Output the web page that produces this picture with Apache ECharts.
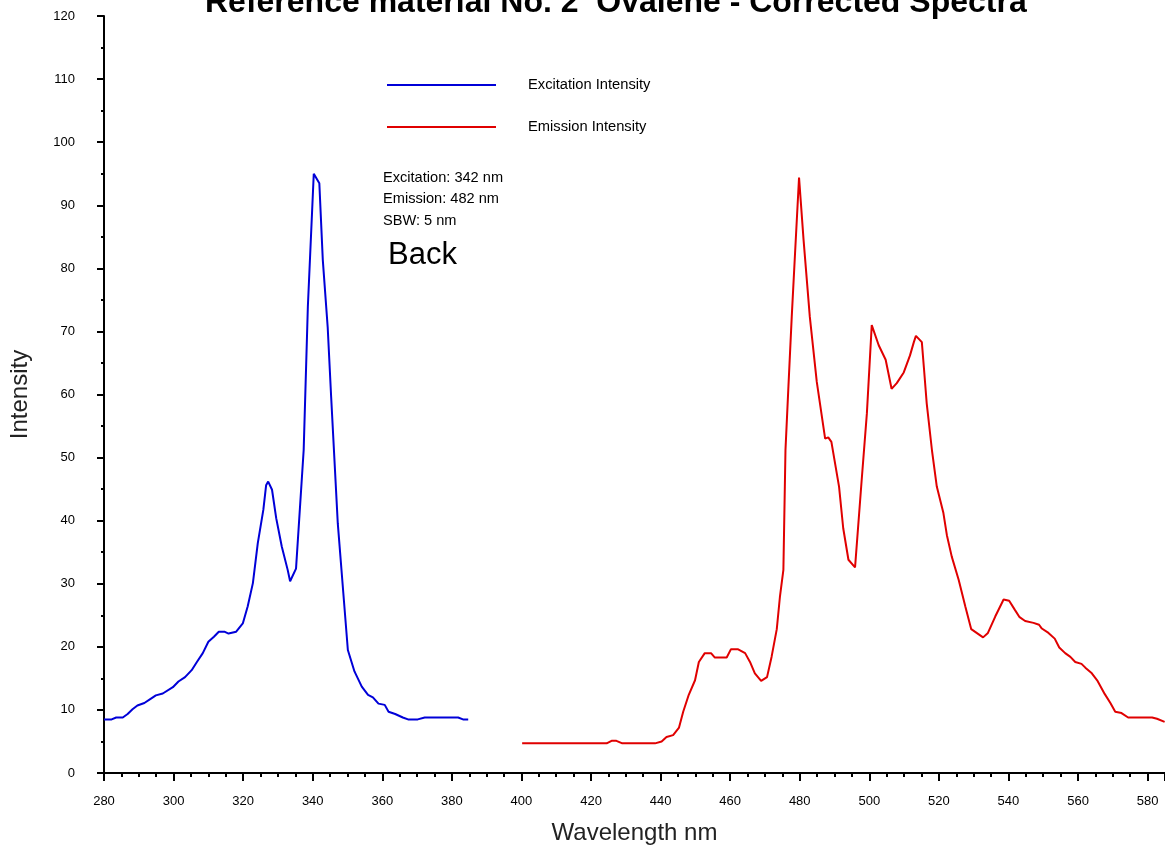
<!DOCTYPE html>
<html>
<head>
<meta charset="utf-8">
<script src="https://cdn.jsdelivr.net/npm/echarts@6/dist/echarts.min.js"></script>
<style>
  html, body { margin: 0; padding: 0; background: #fff; }
  #chart { width: 1165px; height: 865px; }
</style>
</head>
<body>
<div id="chart"></div>
<script>
// excitation spectrum
const excitationWl = [280, 282.2, 283.5, 285.4, 286.8, 288.2, 289.6, 291.6, 293.5, 294.9, 296.9, 299.8,
    301.4, 303.3, 305.2, 306.7, 308.4, 310, 311.6, 313, 314.6, 315.8, 318, 319.9, 321.3, 322.8, 324.2,
    325.8, 326.6, 327.2, 328.3, 329.5, 331.1, 332.8, 333.5, 335.2, 337.4, 338.6, 340.3, 341.9, 342.9,
    344.3, 345.3, 347.2, 348.8, 350.1, 352, 354.1, 355.9, 357.3, 358.9, 360.7, 361.8, 363.7, 365.9,
    367.4, 370.2, 372.2, 381.8, 383.2, 384.7]
const excitationVal = [8.5, 8.5, 8.8, 8.8, 9.35, 10.1, 10.7, 11.1, 11.8, 12.3, 12.6, 13.6,
    14.5, 15.2, 16.3, 17.6, 19.0, 20.8, 21.6, 22.4, 22.4, 22.1, 22.4, 23.7, 26.4, 30.1, 36.4,
    41.7, 45.6, 46.2, 44.9, 40.4, 35.9, 32.2, 30.4, 32.4, 51.2, 73.9, 95.0, 93.5, 81.3,
    70.7, 59.6, 39.6, 28.5, 19.5, 16.1, 13.7, 12.4, 12.0, 11.0, 10.8, 9.7, 9.35, 8.8,
    8.5, 8.5, 8.8, 8.8, 8.5, 8.5]

// emission spectrum
const emissionWl = [400.2, 424.5, 425.9, 427.3, 429, 438.4, 440.3, 441.7, 443.6, 445.3, 446.5, 448.1,
    449.9, 451, 452.7, 454.5, 455.6, 459, 460.2, 462.3, 464.3, 465.7, 467.1, 468.9, 470.6, 471.9,
    473.4, 474.3, 475.3, 475.9, 476.7, 477.7, 478.7, 479.8, 481.1, 482.9, 484.9, 487.3, 488.2, 489.1,
    491.3, 492.5, 494, 495.9, 497.8, 499.3, 500.7, 502.7, 504.7, 506.4, 507.9, 509.9, 511.7, 512.8,
    513.4, 515.1, 515.7, 516.5, 518, 519.4, 521.3, 522.3, 523.7, 525.7, 527.6, 529.3, 532.7, 534.1,
    536.2, 538.6, 540.2, 541.8, 543.2, 544.8, 547.2, 548.8, 549.6, 551.5, 553.3, 554.6, 556.3, 557.8,
    559.2, 561, 562.1, 563.8, 565.5, 567.7, 569.3, 570.7, 572.5, 574.4, 581.3, 582.7, 584.9]
const emissionVal = [4.7, 4.7, 5.1, 5.1, 4.7, 4.7, 5.0, 5.7, 6.0, 7.2, 9.7, 12.4,
    14.7, 17.6, 19.0, 19.0, 18.3, 18.3, 19.6, 19.6, 19.0, 17.6, 15.8, 14.6, 15.2, 18.4,
    22.8, 27.9, 32.2, 51.2, 60.7, 72.3, 82.9, 94.4, 84.5, 72.3, 62.0, 53.0, 53.2, 52.5,
    45.4, 38.8, 33.8, 32.6, 46.4, 57.0, 71.0, 67.8, 65.5, 60.9, 61.8, 63.5, 66.2, 68.3,
    69.3, 68.3, 64.2, 58.6, 51.2, 45.4, 41.2, 37.7, 34.3, 30.6, 26.4, 22.8, 21.5, 22.2,
    24.8, 27.5, 27.3, 25.9, 24.7, 24.1, 23.8, 23.5, 22.9, 22.2, 21.3, 19.9, 19.0, 18.4,
    17.6, 17.3, 16.7, 15.9, 14.7, 12.5, 11.1, 9.7, 9.5, 8.8, 8.8, 8.6, 8.1]

const seriesNames = ['Excitation Intensity', 'Emission Intensity']
const noteLines = ['Excitation: 342 nm', 'Emission: 482 nm', 'SBW: 5 nm']

function pairs(xs, ys) {
    return xs.map((x, i) => [x, ys[i]])
}

const font = 'Liberation Sans, Arial, sans-serif'
const chart = echarts.init(document.getElementById('chart'))

const option = {
    backgroundColor: '#fff',
    animation: false,
    textStyle: { fontFamily: font },
    title: {
        text: 'Reference material No. 2  Ovalene - Corrected Spectra',
        left: 205,
        top: -13,
        padding: 0,
        textStyle: { fontFamily: font, fontSize: 32, fontWeight: 'bold', color: '#000' }
    },
    legend: {
        orient: 'vertical',
        left: 387,
        top: 77,
        icon: 'rect',
        itemWidth: 109,
        itemHeight: 2,
        itemGap: 26,
        padding: 0,
        data: seriesNames,
        textStyle: { fontFamily: font, fontSize: 14.7, color: '#000', padding: [0, 0, 0, 27], lineHeight: 16 }
    },
    grid: { left: 102, right: 0, top: 16, bottom: 92, containLabel: false },
    xAxis: {
        type: 'value',
        min: 280,
        max: 585,
        interval: 20,
        name: 'Wavelength nm',
        nameLocation: 'middle',
        nameGap: 48,
        nameTextStyle: { fontFamily: font, fontSize: 24, color: '#222' },
        axisLine: { lineStyle: { color: '#000', width: 2 } },
        axisTick: { length: 8, lineStyle: { color: '#000', width: 2 } },
        minorTick: { show: true, splitNumber: 4, length: 4, lineStyle: { color: '#000', width: 2 } },
        axisLabel: { margin: 22, fontSize: 13, color: '#000', showMaxLabel: false },
        splitLine: { show: false }
    },
    yAxis: {
        type: 'value',
        min: 0,
        max: 120,
        interval: 10,
        name: 'Intensity',
        nameLocation: 'middle',
        nameGap: 72,
        nameTextStyle: { fontFamily: font, fontSize: 24, color: '#222' },
        axisLine: { show: true, lineStyle: { color: '#000', width: 2 } },
        axisTick: { show: true, length: 7, lineStyle: { color: '#000', width: 2 } },
        minorTick: { show: true, splitNumber: 2, length: 3, lineStyle: { color: '#000', width: 2 } },
        axisLabel: { margin: 29, fontSize: 13, color: '#000' },
        splitLine: { show: false }
    },
    graphic: [
        {
            type: 'text',
            left: 383,
            top: 167,
            style: { text: noteLines.join('\n'), font: '14.6px ' + font, fill: '#000', lineHeight: 21.5 }
        },
        {
            type: 'text',
            left: 388,
            top: 240,
            style: { text: 'Back', font: '31px ' + font, fill: '#000' }
        }
    ],
    series: [
        {
            name: seriesNames[0],
            type: 'line',
            data: pairs(excitationWl, excitationVal),
            symbol: 'none',
            color: '#0000d8',
            lineStyle: { color: '#0000d8', width: 2 }
        },
        {
            name: seriesNames[1],
            type: 'line',
            data: pairs(emissionWl, emissionVal),
            symbol: 'none',
            color: '#e00000',
            lineStyle: { color: '#e00000', width: 2 }
        }
    ]
}
chart.setOption(option)
</script>
</body>
</html>
